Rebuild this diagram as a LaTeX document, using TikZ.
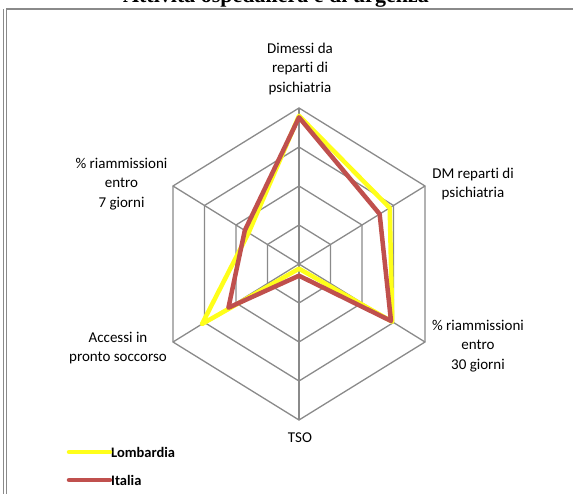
\documentclass[tikz,border=0pt]{standalone}
\usepackage{fontspec}
\setmainfont{Carlito}[Ligatures=NoCommon]
\newfontfamily\titlefont{Liberation Serif}
\usepackage{xcolor}
\usepackage{tikz}
\definecolor{lombardia}{HTML}{FFFF1A}
\definecolor{italia}{HTML}{C0504D}
\definecolor{griglia}{HTML}{8A8A8A}

\begin{document}
\begin{tikzpicture}[x=1pt,y=-1pt,
  asse/.style={font=\fontsize{15}{19.5}\selectfont,align=center,inner sep=0pt},
  rete/.style={draw=griglia,line width=1.3pt},
  serie/.style={line width=4.5pt,line join=round,line cap=round},
  voce/.style={anchor=west,inner sep=1pt,font=\fontsize{14.5}{17}\selectfont\bfseries}]
  \useasboundingbox (0,0) rectangle (573,494);
  \fill[white] (0,0) rectangle (573,494);
  \node[anchor=base,inner sep=0pt,font=\titlefont\bfseries\fontsize{22}{26}\selectfont] (titolo) at (276,2.5) {Attività ospedaliera e di urgenza};
  \draw[griglia,line width=1.2pt] (3.3,9) -- (3.3,494);
  \draw[griglia,line width=1.2pt] (6.4,9) -- (6.4,494);
  \draw[griglia,line width=1.3pt] (6.4,9) -- (573,9);
  \begin{scope}[shift={(299,264)},x=145.5pt,y=156pt]
    \foreach \r in {0.25,0.5,0.75,1}
      \draw[rete] (90:\r) -- (30:\r) -- (-30:\r) -- (-90:\r) -- (-150:\r) -- (150:\r) -- cycle;
    \foreach \a in {90,30,-30,-90,-150,150}
      \draw[rete] (0,0) -- (\a:1);
    \draw[serie,lombardia] (90:0.95) -- (30:0.72) -- (-30:0.74) -- (-90:0.03) -- (-150:0.77) -- (150:0.40) -- cycle;
    \draw[serie,italia] (90:0.94) -- (30:0.64) -- (-30:0.73) -- (-90:0.075) -- (-150:0.56) -- (150:0.43) -- cycle;
  \end{scope}
  \node[asse] (dimessi) at (300,69) {Dimessi da\\reparti di\\psichiatria};
  \node[asse] (dm) at (473,184) {DM reparti di\\psichiatria};
  \node[asse] (riam30) at (478,346) {\% riammissioni\\entro\\30 giorni};
  \node[asse] (tso) at (300,438) {TSO};
  \node[asse] (accessi) at (118,348) {Accessi in\\pronto soccorso};
  \node[asse] (riam7) at (121.5,184) {\% riammissioni\\entro\\7 giorni};
  \node[voce] (lomb) at (110,452) {Lombardia};
  \node[voce] (ita) at (110,480) {Italia};
  \draw[serie,lombardia] (69,452) -- (lomb.west);
  \draw[serie,italia] (69,480) -- (ita.west);
\end{tikzpicture}
\end{document}
